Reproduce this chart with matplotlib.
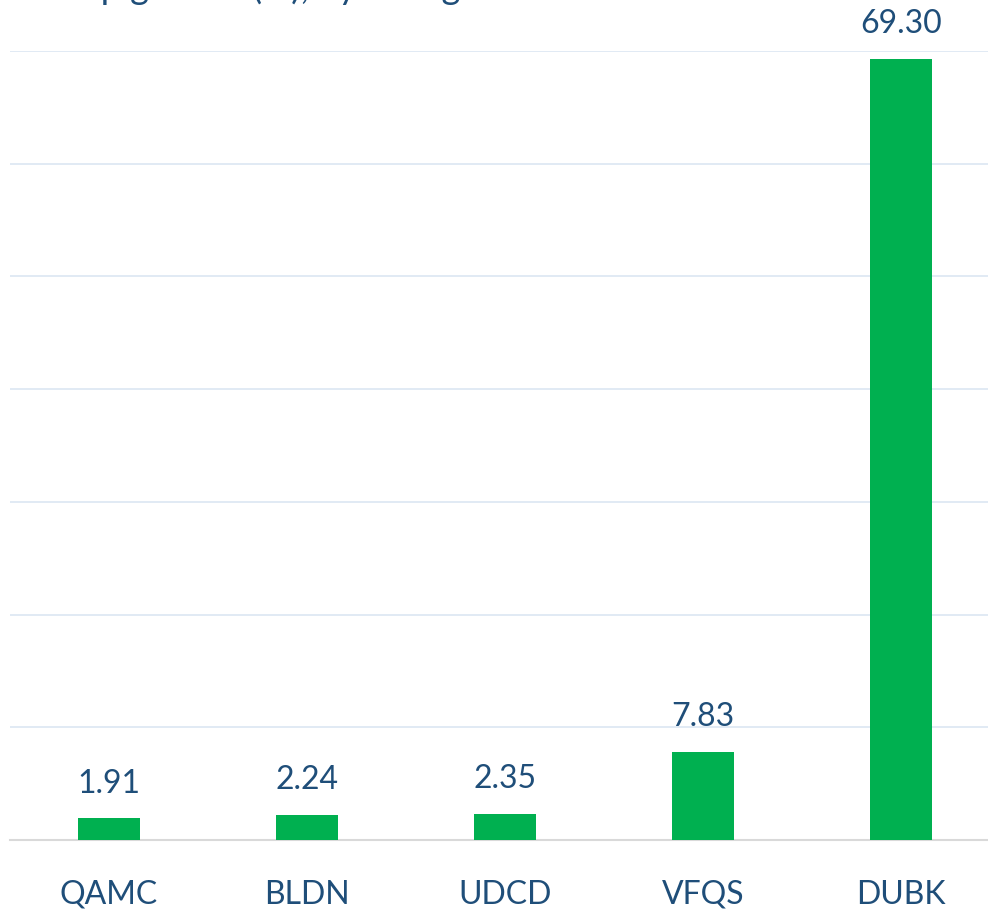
import matplotlib
matplotlib.use("Agg")
import matplotlib.pyplot as plt

# data
tickers = ["QAMC", "BLDN", "UDCD", "VFQS", "DUBK"]
values = [1.91, 2.24, 2.35, 7.83, 69.30]
title = "Top gainers (%), by change"

BAR_GREEN = "#00B050"
TEXT_BLUE = "#1F4E79"
GRID_BLUE = "#DCE6F2"

plt.rcParams["font.family"] = ["Lato", "DejaVu Sans"]

fig = plt.figure(figsize=(9.88, 9.12), dpi=100)
ax = fig.add_axes([10 / 988, (912 - 841) / 912, 990 / 988, (841 - 52) / 912])

x = range(len(tickers))
ax.bar(x, values, width=0.31, color=BAR_GREEN, zorder=3)
for xi, v in zip(x, values):
    ax.annotate(f"{v:.2f}", xy=(xi, v), xytext=(0, 15), textcoords="offset points",
                ha="center", va="bottom", fontsize=23, color=TEXT_BLUE, clip_on=False)

ax.set_xlim(-0.5, 4.5)
ax.set_ylim(0, 70)
ax.set_yticks(range(0, 71, 10))
ax.set_yticklabels([])
ax.tick_params(axis="y", length=0)
ax.grid(True, axis="y", color=GRID_BLUE, linewidth=1.2, zorder=0)
ax.set_xticks(list(x))
ax.set_xticklabels(tickers, fontsize=23, color=TEXT_BLUE)
ax.tick_params(axis="x", length=0, pad=28)
for s in ["top", "right", "left"]:
    ax.spines[s].set_visible(False)
ax.spines["bottom"].set_color("#D9D9D9")
ax.spines["bottom"].set_linewidth(1.5)

# title: only its descenders peek in at the top edge, as in the reference crop
fig.text(0.06, 1 + 1 / 912, title, ha="left", va="baseline", fontsize=26, color=TEXT_BLUE)

fig.savefig("out.png", dpi=100)
